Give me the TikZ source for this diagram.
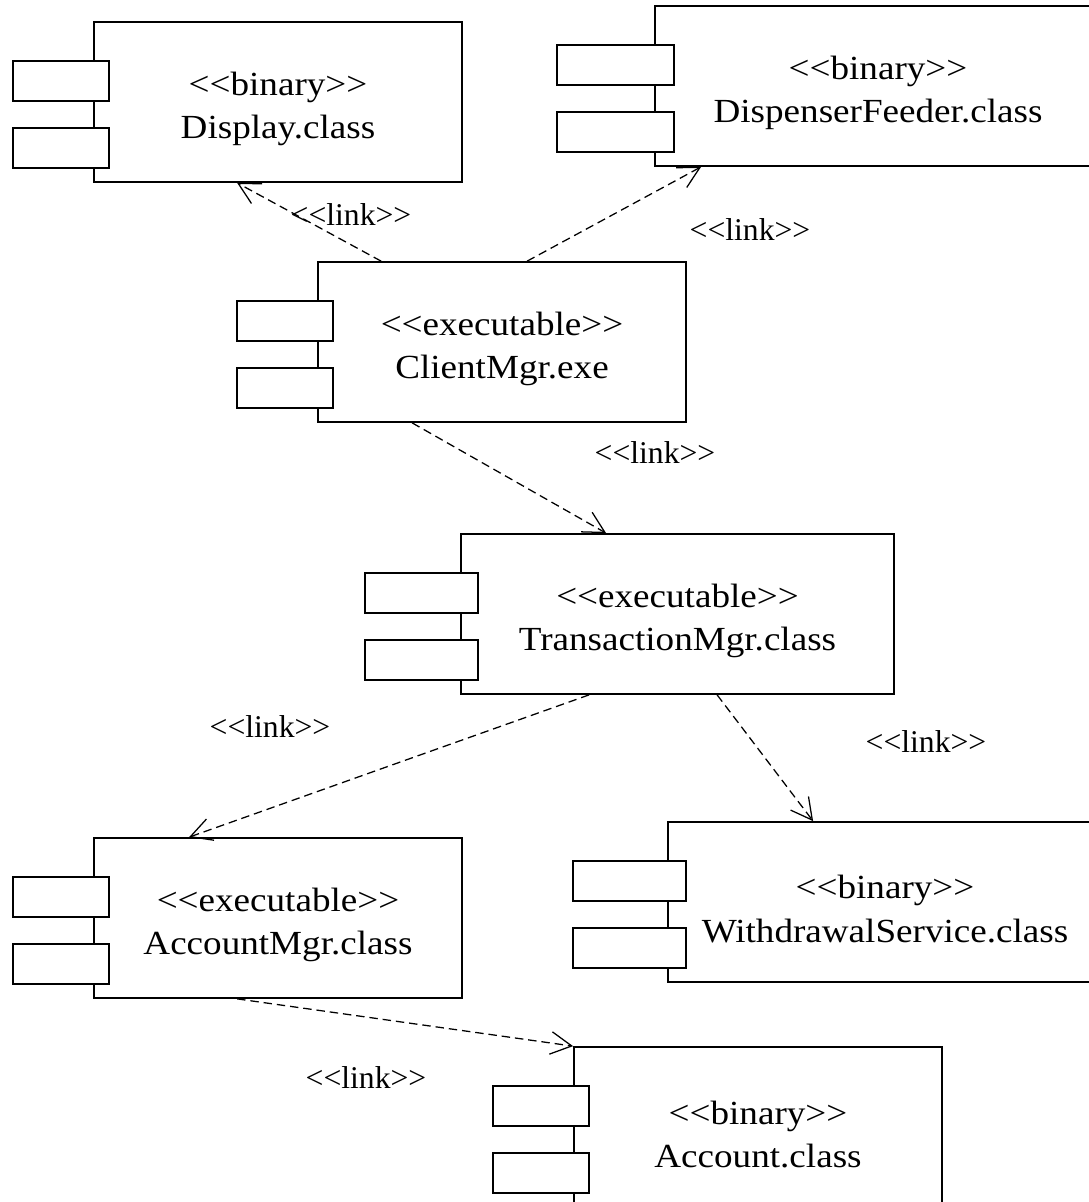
\documentclass[tikz,border=0pt]{standalone}
\usepackage{fontspec}
\setmainfont{Liberation Serif}
\newfontfamily\compfont[FakeStretch=1.1]{Liberation Serif}
\usetikzlibrary{calc, arrows.meta}

\begin{document}
\begin{tikzpicture}[x=0.025cm,y=-0.025cm,
  comp/.style={draw, line width=1.2pt, minimum height=4cm, inner sep=0pt},
  comptext/.style={align=center, yshift=-5pt, inner sep=0pt,
    font=\compfont\fontsize{24}{30.6}\selectfont},
  port/.style={draw, line width=1.2pt, fill=white},
  link/.style={line width=0.9pt, dash pattern=on 6pt off 3.5pt,
    -{Straight Barb[length=15pt,width=16pt,line width=0.9pt]}},
  stereo/.style={font=\fontsize{22.5}{26}\selectfont}]
\useasboundingbox (0,0) rectangle (1089,1202);
\clip (0,0) rectangle (1089,1202);

\node[comp, minimum width=9.2cm, label={[comptext]center:<{}<binary>{}>\\Display.class}] (disp) at (278,102) {};
\node[comp, minimum width=11.15cm, label={[comptext]center:<{}<binary>{}>\\DispenserFeeder.class}] (feeder) at (878,86) {};
\node[comp, minimum width=9.2cm, label={[comptext]center:<{}<executable>{}>\\ClientMgr.exe}] (cmgr) at (502,342) {};
\node[comp, minimum width=10.825cm, label={[comptext]center:<{}<executable>{}>\\TransactionMgr.class}] (trans) at (677.5,614) {};
\node[comp, minimum width=10.85cm, label={[comptext]center:<{}<binary>{}>\\WithdrawalService.class}] (wsvc) at (885,902) {};
\node[comp, minimum width=9.2cm, label={[comptext]center:<{}<executable>{}>\\AccountMgr.class}] (amgr) at (278,918) {};
\node[comp, minimum width=9.2cm, label={[comptext]center:<{}<binary>{}>\\Account.class}] (acct) at (758,1127) {};

\draw[port] ($(disp.north west)+(-80,40)$) rectangle ++(96,40);
\draw[port] ($(disp.north west)+(-80,107)$) rectangle ++(96,40);
\draw[port] ($(feeder.north west)+(-97,40)$) rectangle ++(117,40);
\draw[port] ($(feeder.north west)+(-97,107)$) rectangle ++(117,40);
\draw[port] ($(cmgr.north west)+(-80,40)$) rectangle ++(96,40);
\draw[port] ($(cmgr.north west)+(-80,107)$) rectangle ++(96,40);
\draw[port] ($(trans.north west)+(-95,40)$) rectangle ++(113,40);
\draw[port] ($(trans.north west)+(-95,107)$) rectangle ++(113,40);
\draw[port] ($(wsvc.north west)+(-94,40)$) rectangle ++(113,40);
\draw[port] ($(wsvc.north west)+(-94,107)$) rectangle ++(113,40);
\draw[port] ($(amgr.north west)+(-80,40)$) rectangle ++(96,40);
\draw[port] ($(amgr.north west)+(-80,107)$) rectangle ++(96,40);
\draw[port] ($(acct.north west)+(-80,40)$) rectangle ++(96,40);
\draw[port] ($(acct.north west)+(-80,107)$) rectangle ++(96,40);

\draw[link] ($(cmgr.north west)+(64,0)$) -- ($(disp.south west)+(144,0)$);
\draw[link] ($(cmgr.north west)+(210,0)$) -- ($(feeder.south west)+(47,0)$);
\draw[link] ($(cmgr.south west)+(95,0)$) -- ($(trans.north west)+(146,0)$);
\draw[link] ($(trans.south west)+(129,0)$) -- ($(amgr.north west)+(96,0)$);
\draw[link] ($(trans.south west)+(257,0)$) -- ($(wsvc.north west)+(146,0)$);
\draw[link] ($(amgr.south west)+(144,0)$) -- (acct.north west);

\node[stereo] (lk1) at (351,215) {<{}<link>{}>};
\node[stereo] (lk2) at (750,230) {<{}<link>{}>};
\node[stereo] (lk3) at (655,453) {<{}<link>{}>};
\node[stereo] (lk4) at (270,727) {<{}<link>{}>};
\node[stereo] (lk5) at (926,742) {<{}<link>{}>};
\node[stereo] (lk6) at (366,1078) {<{}<link>{}>};
\end{tikzpicture}
\end{document}
